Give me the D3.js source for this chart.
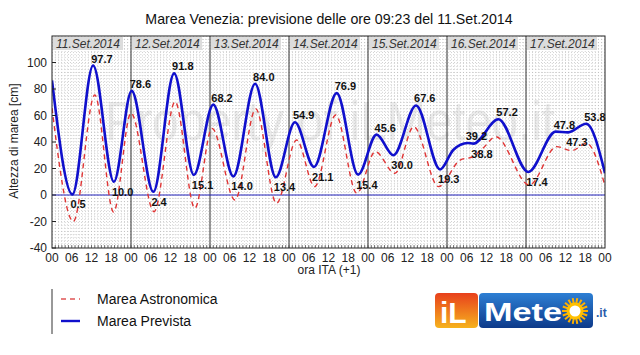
<!DOCTYPE html>
<html><head><meta charset="utf-8">
<script src="https://cdn.jsdelivr.net/npm/d3@7"></script>
<style>body{margin:0;background:#fff}svg{display:block}text{font-family:"Liberation Sans",Arial,sans-serif}</style>
</head><body>
<script>
// ---- data (hours from 11.Set.2014 00:00, value in cm) ----
const days = ["11.Set.2014","12.Set.2014","13.Set.2014","14.Set.2014","15.Set.2014","16.Set.2014","17.Set.2014"];
const hourLabels = ["00","06","12","18"];
const yTicks = [-40,-20,0,20,40,60,80,100];
// Marea Prevista (blue): [hour, cm]
const prevHours = [0,6.2,12.5,18.8,24.2,30.8,37.1,43.1,49.0,55.1,61.7,68.0,73.8,79.6,86.5,93.0,98.6,103.7,110.6,117.9,121.9,126.3,128.0,135.6,144.7,153.0,156.8,162.3,168];
const prevVals  = [86.5,0.5,97.7,10.0,78.6,2.4,91.8,15.1,68.2,14.0,84.0,13.4,54.9,21.1,76.9,15.4,45.6,30.0,67.6,19.3,34,39.2,38.8,57.2,17.4,47.8,47.3,53.8,16.5];
// labelled extremes: index into prevHours, type
const labelIdx  = [1,2,3,4,5,6,7,8,9,10,11,12,13,14,15,16,17,18,19,21,22,23,24,25,26,27];
const labelType = ["min","max","min","max","min","max","min","max","min","max","min","max","min","max","min","max","min","max","min","max","min","max","min","max","min","max"];
// Marea Astronomica (red dashed): [hour, cm]
const astroHours = [0,6.5,13.0,18.7,24.0,31.0,37.4,43.4,48.6,55.6,61.9,68.2,74.3,79.8,86.2,92.6,98.2,104.2,109.9,117.4,124.0,127.9,131.0,134.8,145.0,153.3,157.9,162.4,168];
const astroVals  = [65.5,-20,75.5,-12.8,62,-12.6,70.4,-10,50.3,-3.8,65,-6.3,41.5,6.3,60.4,1.3,32.7,16.4,51.5,6.3,26.4,28.9,35.5,44,7.5,36.5,33.5,39,7];

const W=640,H=355;
const svg=d3.select("body").append("svg").attr("width",W).attr("height",H);
const x=d3.scaleLinear().domain([0,168]).range([52,605]);
const y=d3.scaleLinear().domain([-40,120]).range([248,36]);
const [x0,x1]=x.range(), [yb,yt]=y.range();

// title
svg.append("text").attr("x",329).attr("y",24).attr("text-anchor","middle")
  .attr("font-size",14.2).attr("fill","#111").text("Marea Venezia: previsione delle ore 09:23 del 11.Set.2014");

const g=svg.append("g");
g.append("rect").attr("x",x0).attr("y",yt).attr("width",x1-x0).attr("height",yb-yt).attr("fill","#fff");

// watermark
g.append("text").attr("x",105).attr("y",140).attr("font-size",56).attr("fill","#ebebeb")
  .attr("textLength",450).attr("lengthAdjust","spacingAndGlyphs").text("Property of iLMeteo.it");

// dotted grid
const vGrid=d3.range(1,168);
g.selectAll(".vg").data(vGrid).join("line").attr("x1",d=>x(d)).attr("x2",d=>x(d)).attr("y1",yt).attr("y2",yb)
  .attr("stroke","#b4b4b4").attr("stroke-width",0.6).attr("stroke-dasharray","1,2");
const hGrid=d3.range(-37.5,120,2.5);
g.selectAll(".hg").data(hGrid).join("line").attr("x1",x0).attr("x2",x1).attr("y1",d=>y(d)).attr("y2",d=>y(d))
  .attr("stroke","#b4b4b4").attr("stroke-width",0.6).attr("stroke-dasharray","1,2");

// day label boxes
days.forEach((d,i)=>{
  g.append("rect").attr("x",x(i*24)+1).attr("y",yt+1).attr("width",70).attr("height",13).attr("fill","#dcdcdc");
  g.append("text").attr("x",x(i*24)+4).attr("y",yt+12).attr("font-size",12).attr("font-style","italic")
    .attr("fill","#333").text(d);
});

// day separators
g.selectAll(".ds").data(d3.range(24,168,24)).join("line").attr("x1",d=>x(d)).attr("x2",d=>x(d)).attr("y1",yt).attr("y2",yb)
  .attr("stroke","#333").attr("stroke-width",1);

// zero line
g.append("line").attr("x1",x0).attr("x2",x1).attr("y1",y(0)).attr("y2",y(0)).attr("stroke","#2222bb").attr("stroke-width",1);

// hour ticks bottom (inward)
g.selectAll(".ht").data(d3.range(1,168)).join("line").attr("x1",d=>x(d)).attr("x2",d=>x(d)).attr("y1",yb).attr("y2",yb-3)
  .attr("stroke","#444").attr("stroke-width",0.7);

// clip
svg.append("clipPath").attr("id","clp").append("rect").attr("x",x0).attr("y",yt).attr("width",x1-x0).attr("height",yb-yt);

const line=d3.line().x(d=>x(d[0])).y(d=>y(d[1])).curve(d3.curveMonotoneX);
const astro=astroHours.map((h,i)=>[h,astroVals[i]]);
const prev=prevHours.map((h,i)=>[h,prevVals[i]]);
g.append("path").attr("clip-path","url(#clp)").attr("d",line(astro)).attr("fill","none")
  .attr("stroke","#e03535").attr("stroke-width",1.4).attr("stroke-dasharray","5,4");
g.append("path").attr("clip-path","url(#clp)").attr("d",line(prev)).attr("fill","none")
  .attr("stroke","#1010cc").attr("stroke-width",2.6);

// labels
labelIdx.forEach((k,j)=>{
  const px=x(prevHours[k]), py=y(prevVals[k]);
  g.append("text").attr("x",px-2).attr("y",labelType[j]==="max"?py-3:py+14)
    .attr("font-size",11).attr("font-weight","bold").attr("fill","#111").text(prevVals[k].toFixed(1));
});

// frame
g.append("rect").attr("x",x0).attr("y",yt).attr("width",x1-x0).attr("height",yb-yt).attr("fill","none").attr("stroke","#222").attr("stroke-width",1);

// axes labels
yTicks.forEach(t=>{
  svg.append("text").attr("x",47).attr("y",y(t)+4).attr("text-anchor","end").attr("font-size",12).attr("fill","#222").text(t);
  svg.append("line").attr("x1",x0).attr("x2",x0+4).attr("y1",y(t)).attr("y2",y(t)).attr("stroke","#222");
});
d3.range(0,169,6).forEach(h=>{
  svg.append("text").attr("x",x(h)).attr("y",yb+14).attr("text-anchor","middle").attr("font-size",12).attr("fill","#222")
    .text(hourLabels[(h/6)%4]);
});
svg.append("text").attr("x",329).attr("y",274).attr("text-anchor","middle").attr("font-size",12).attr("fill","#222").text("ora ITA (+1)");
svg.append("text").attr("transform","translate(18,141) rotate(-90)").attr("text-anchor","middle").attr("font-size",12)
  .attr("fill","#222").text("Altezza di marea [cm]");

// legend
svg.append("line").attr("x1",52).attr("x2",52).attr("y1",289).attr("y2",334).attr("stroke","#333");
svg.append("line").attr("x1",61).attr("x2",80).attr("y1",299).attr("y2",299).attr("stroke","#e05555").attr("stroke-width",1.4).attr("stroke-dasharray","5,4");
svg.append("text").attr("x",97).attr("y",304).attr("font-size",14).attr("fill","#111").text("Marea Astronomica");
svg.append("line").attr("x1",61).attr("x2",80).attr("y1",321).attr("y2",321).attr("stroke","#1010cc").attr("stroke-width",2.4);
svg.append("text").attr("x",97).attr("y",326).attr("font-size",14).attr("fill","#111").text("Marea Prevista");

// logo
const defs=svg.append("defs");
const go=defs.append("linearGradient").attr("id","gor").attr("x1",0).attr("y1",0).attr("x2",0).attr("y2",1);
go.append("stop").attr("offset","0%").attr("stop-color","#e8401c");
go.append("stop").attr("offset","100%").attr("stop-color","#f6b21e");
const gb=defs.append("linearGradient").attr("id","gbl").attr("x1",0).attr("y1",0).attr("x2",0).attr("y2",1);
gb.append("stop").attr("offset","0%").attr("stop-color","#2d7fd4");
gb.append("stop").attr("offset","100%").attr("stop-color","#0d3a8a");
svg.append("rect").attr("x",435).attr("y",293).attr("width",43).attr("height",35).attr("rx",4).attr("fill","url(#gor)");
svg.append("rect").attr("x",479).attr("y",293).attr("width",114).attr("height",35).attr("rx",4).attr("fill","url(#gbl)");
svg.append("text").attr("x",440).attr("y",323).attr("font-size",30).attr("font-weight","bold").attr("fill","#fff")
  .attr("font-family","DejaVu Sans").text("iL");
svg.append("text").attr("x",484).attr("y",321).attr("font-size",26).attr("font-weight","bold").attr("fill","#fff")
  .attr("font-family","DejaVu Serif").attr("textLength",78).attr("lengthAdjust","spacingAndGlyphs").text("Mete");
const sun=svg.append("g").attr("transform","translate(575,311)");
d3.range(0,360,20).forEach(a=>{
  sun.append("line").attr("x1",0).attr("y1",0).attr("x2",13*Math.cos(a*Math.PI/180)).attr("y2",13*Math.sin(a*Math.PI/180))
    .attr("stroke","#ffb000").attr("stroke-width",2);
});
sun.append("circle").attr("r",7).attr("fill","#fff").attr("stroke","#ffc000").attr("stroke-width",3);
svg.append("text").attr("x",596).attr("y",317).attr("font-size",12).attr("font-weight","bold").attr("fill","#2a5caa").text(".it");
</script>
</body></html>
